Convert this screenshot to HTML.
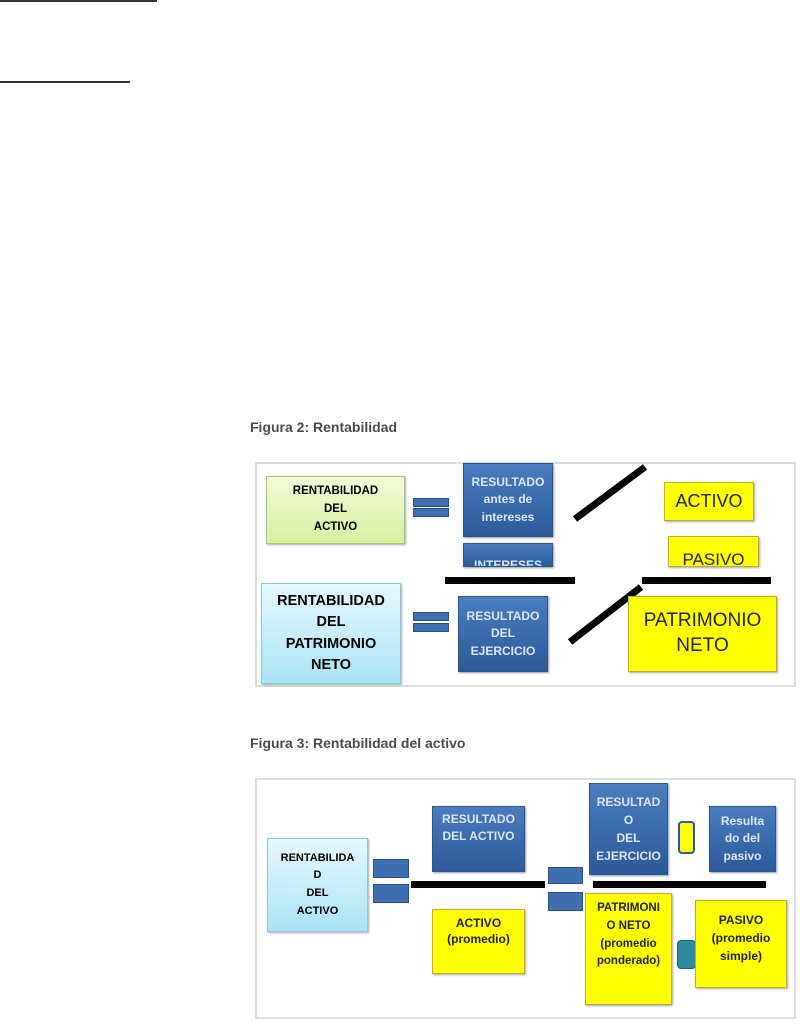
<!DOCTYPE html>
<html><head><meta charset="utf-8"><style>
body{margin:0;width:800px;height:1024px;background:#fff;position:relative;overflow:hidden;font-family:"Liberation Sans",sans-serif}
.a{position:absolute;box-sizing:border-box}
.blue{background:linear-gradient(#4a7cc0,#2c5a9a);border:1px solid #2a5590;color:#dce6f4;text-align:center;display:flex;align-items:center;justify-content:center;box-shadow:1px 1px 2px #999;line-height:1.45;font-weight:bold}
.yel{background:#ffff00;border:1px solid #b9a940;color:#222;text-align:center;display:flex;align-items:center;justify-content:center;box-shadow:1px 1px 2px #aaa;line-height:1.3}
.bar{background:#3f6fb0;border:1px solid #24508f}
.blk{background:#000}
.title{font-weight:bold;color:#4a4a4a;font-size:14px}
</style></head><body>
<div class="a" style="left:0;top:0;width:157px;height:2px;background:#333"></div>
<div class="a" style="left:0;top:81px;width:130px;height:2px;background:#333"></div>

<div class="a title" style="left:250px;top:419px">Figura 2: Rentabilidad</div>
<div class="a" style="left:255px;top:462px;width:541px;height:225px;border:2px solid #ddd"></div>
<div class="a" style="left:266px;top:476px;width:139px;height:68px;background:linear-gradient(#f3fad7,#d8ef9f);border:1px solid #a9c56f;display:flex;align-items:center;justify-content:center;text-align:center;font-weight:bold;font-size:11.5px;line-height:1.55;box-shadow:1px 1px 2px #aaa">RENTABILIDAD<br>DEL<br>ACTIVO</div>
<div class="a bar" style="left:413px;top:498px;width:36px;height:9px"></div>
<div class="a bar" style="left:413px;top:508px;width:36px;height:9px"></div>
<div class="a blue" style="left:463px;top:463px;width:90px;height:74px;font-size:12px">RESULTADO<br>antes de<br>intereses</div>
<div class="a blue" style="left:463px;top:543px;width:90px;height:24px;font-size:12px;overflow:hidden;align-items:flex-start;padding-top:13px">INTERESES</div>
<div class="a blk" style="left:445px;top:577px;width:130px;height:7px"></div>
<svg class="a" style="left:0;top:0" width="800" height="1024"><line x1="575" y1="519" x2="645" y2="467" stroke="#000" stroke-width="7"/><line x1="570" y1="642" x2="641" y2="587" stroke="#000" stroke-width="7"/></svg>
<div class="a yel" style="left:664px;top:482px;width:90px;height:39px;font-size:18px">ACTIVO</div>
<div class="a yel" style="left:668px;top:536px;width:91px;height:31px;font-size:17px;overflow:hidden;align-items:flex-start;padding-top:12px">PASIVO</div>
<div class="a blk" style="left:642px;top:577px;width:129px;height:7px"></div>
<div class="a yel" style="left:628px;top:596px;width:149px;height:76px;font-size:19px">PATRIMONIO<br>NETO</div>
<div class="a" style="left:261px;top:583px;width:140px;height:101px;background:linear-gradient(#e6f8fd,#a9e3f6);border:1px solid #8fc7dc;display:flex;align-items:center;justify-content:center;text-align:center;font-weight:bold;font-size:14.5px;line-height:1.45;box-shadow:1px 1px 2px #aaa">RENTABILIDAD<br>DEL<br>PATRIMONIO<br>NETO</div>
<div class="a bar" style="left:413px;top:612px;width:36px;height:9px"></div>
<div class="a bar" style="left:413px;top:623px;width:36px;height:9px"></div>
<div class="a blue" style="left:458px;top:596px;width:90px;height:76px;font-size:12px">RESULTADO<br>DEL<br>EJERCICIO</div>

<div class="a title" style="left:250px;top:735px">Figura 3: Rentabilidad del activo</div>
<div class="a" style="left:255px;top:778px;width:541px;height:241px;border:2px solid #ddd"></div>
<div class="a" style="left:267px;top:838px;width:101px;height:94px;background:linear-gradient(#e6f8fd,#a9e3f6);border:1px solid #8fc7dc;display:flex;align-items:center;justify-content:center;text-align:center;font-weight:bold;font-size:11px;line-height:1.6;box-shadow:1px 1px 2px #aaa">RENTABILIDA<br>D<br>DEL<br>ACTIVO</div>
<div class="a bar" style="left:373px;top:859px;width:36px;height:19px"></div>
<div class="a bar" style="left:373px;top:884px;width:36px;height:19px"></div>
<div class="a blk" style="left:411px;top:881px;width:134px;height:7px"></div>
<div class="a blue" style="left:432px;top:806px;width:93px;height:66px;font-size:12px;align-items:flex-start;padding-top:4px">RESULTADO<br>DEL ACTIVO</div>
<div class="a yel" style="left:432px;top:909px;width:93px;height:65px;font-size:12px;align-items:flex-start;padding-top:6px;font-weight:bold">ACTIVO<br>(promedio)</div>
<div class="a bar" style="left:548px;top:867px;width:35px;height:17px"></div>
<div class="a bar" style="left:548px;top:892px;width:35px;height:19px"></div>
<div class="a blue" style="left:589px;top:783px;width:79px;height:92px;font-size:12px;line-height:1.5">RESULTAD<br>O<br>DEL<br>EJERCICIO</div>
<div class="a" style="left:678px;top:821px;width:17px;height:33px;background:#ffff00;border:2px solid #2c5a9a;border-radius:4px"></div>
<div class="a blue" style="left:709px;top:806px;width:67px;height:66px;font-size:12px">Resulta<br>do del<br>pasivo</div>
<div class="a blk" style="left:593px;top:881px;width:173px;height:7px"></div>
<div class="a yel" style="left:585px;top:893px;width:87px;height:112px;font-size:11.5px;align-items:flex-start;padding-top:6px;line-height:1.55;font-weight:bold">PATRIMONI<br>O NETO<br>(promedio<br>ponderado)</div>
<div class="a" style="left:677px;top:940px;width:19px;height:29px;background:#2f8a9e;border:1px solid #1f5f7a;border-radius:4px"></div>
<div class="a yel" style="left:695px;top:900px;width:92px;height:88px;font-size:12px;align-items:flex-start;padding-top:10px;line-height:1.5;font-weight:bold">PASIVO<br>(promedio<br>simple)</div>
</body></html>
